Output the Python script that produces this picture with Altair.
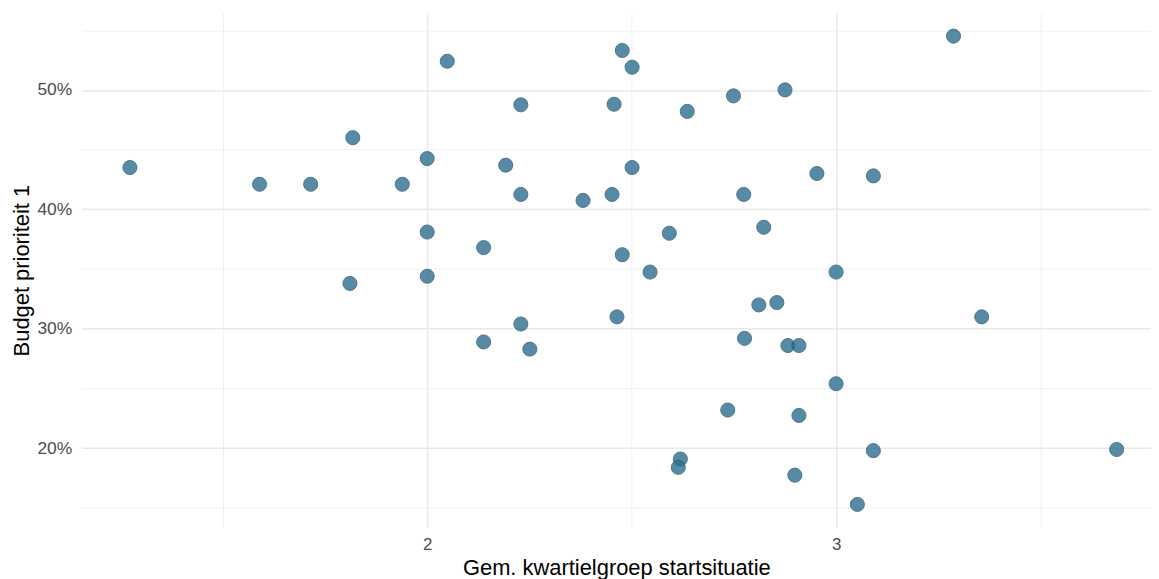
import altair as alt
import pandas as pd

# Gem. kwartielgroep startsituatie
kwartiel = [1.273, 1.590, 1.715, 1.818, 1.811, 1.939, 2.000, 2.000, 2.000, 2.049,
            2.138, 2.138, 2.192, 2.229, 2.229, 2.229, 2.251, 2.381, 2.452, 2.457,
            2.464, 2.477, 2.477, 2.501, 2.501, 2.545, 2.592, 2.619, 2.614, 2.636,
            2.735, 2.749, 2.774, 2.776, 2.811, 2.823, 2.855, 2.875, 2.882, 2.909,
            2.899, 2.909, 2.953, 3.000, 3.000, 3.052, 3.091, 3.091, 3.287, 3.356,
            3.686]
# Budget prioriteit 1 (%)
budget = [43.5, 42.1, 42.1, 46.0, 33.8, 42.1, 44.25, 38.1, 34.4, 52.4,
          36.8, 28.9, 43.7, 48.75, 41.25, 30.4, 28.3, 40.75, 41.25, 48.8,
          31.0, 53.3, 36.2, 51.9, 43.5, 34.75, 38.0, 19.1, 18.4, 48.2,
          23.2, 49.5, 41.25, 29.2, 32.0, 38.5, 32.2, 50.0, 28.6, 28.6,
          17.75, 22.75, 43.0, 34.75, 25.4, 15.3, 42.8, 19.8, 54.5, 31.0,
          19.9]

major_x = [2, 3]
minor_x = [1.5, 2.5, 3.5]
major_y = [20, 30, 40, 50]
minor_y = [15, 25, 35, 45, 55]

df = pd.DataFrame({"x": kwartiel, "y": budget})

xdom = [1.155, 3.77]
ydom = [13.37, 56.46]
FONT = "Liberation Sans"

minor = alt.Chart(df).mark_point(opacity=0).encode(
    x=alt.X("x:Q", scale=alt.Scale(domain=xdom, nice=False, zero=False),
            axis=alt.Axis(orient="bottom", values=minor_x, labels=False, ticks=False,
                          domain=False, title=None, grid=True,
                          gridColor="#f1f1f1", gridWidth=1)),
    y=alt.Y("y:Q", scale=alt.Scale(domain=ydom, nice=False, zero=False),
            axis=alt.Axis(orient="left", values=minor_y, labels=False, ticks=False,
                          domain=False, title=None, grid=True,
                          gridColor="#f1f1f1", gridWidth=1)),
)

main = alt.Chart(df).mark_circle(
    size=200, color="#2E6E8E", opacity=0.8, stroke="#23566f", strokeWidth=1
).encode(
    x=alt.X("x:Q", scale=alt.Scale(domain=xdom, nice=False, zero=False),
            axis=alt.Axis(orient="bottom", values=major_x, format="d",
                          title="Gem. kwartielgroep startsituatie",
                          ticks=False, domain=False, grid=True,
                          gridColor="#e9e9e9", gridWidth=1.5,
                          labelFont=FONT, labelFontSize=17, labelColor="#4d4d4d",
                          labelPadding=9,
                          titleFont=FONT, titleFontSize=22, titleFontWeight="normal",
                          titleColor="#000000", titlePadding=5)),
    y=alt.Y("y:Q", scale=alt.Scale(domain=ydom, nice=False, zero=False),
            axis=alt.Axis(orient="left", values=major_y,
                          labelExpr="datum.value + '%'",
                          title="Budget prioriteit 1",
                          ticks=False, domain=False, grid=True,
                          gridColor="#e9e9e9", gridWidth=1.5,
                          labelFont=FONT, labelFontSize=17.5, labelColor="#4d4d4d",
                          labelPadding=10,
                          titleFont=FONT, titleFontSize=22, titleFontWeight="normal",
                          titleColor="#000000", titlePadding=3)),
)

chart = alt.layer(minor, main).resolve_axis(x="independent", y="independent").properties(
    width=1074, height=517,
    background="white",
    autosize=alt.AutoSizeParams(type="none"),
    padding={"left": 74, "top": 3.5, "right": 0, "bottom": 50},
).configure_view(strokeWidth=0, stroke="transparent")

chart.save("out.html", embed_options={"renderer": "svg", "actions": False})
